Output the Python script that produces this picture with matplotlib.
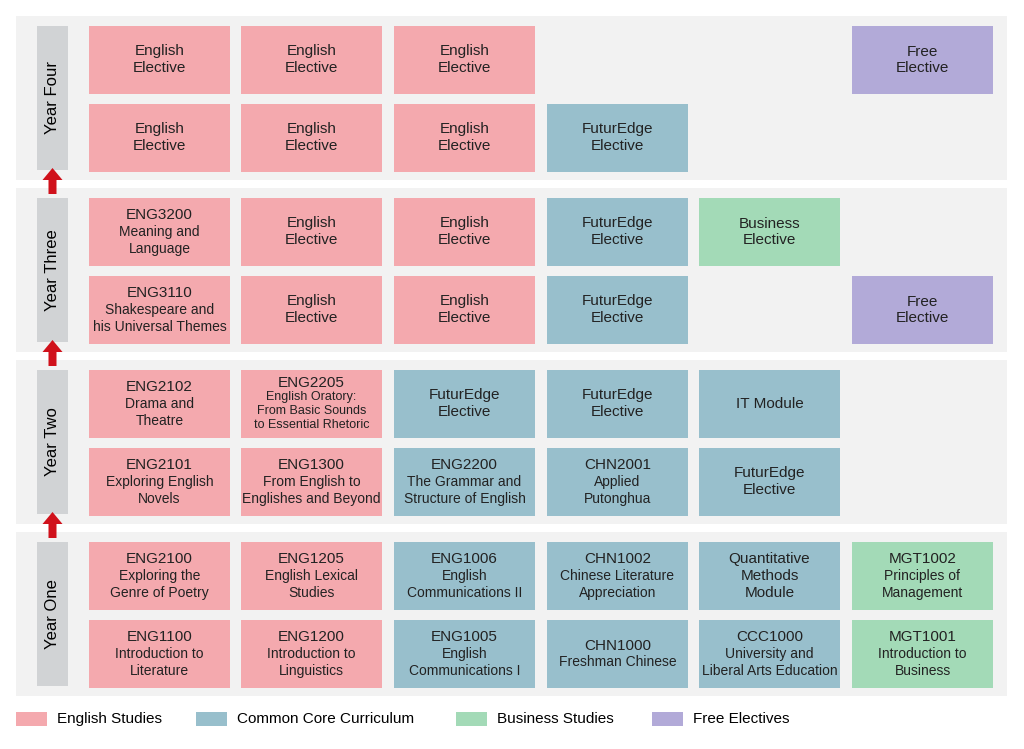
import re
import matplotlib.pyplot as plt
from matplotlib.patches import Rectangle, FancyArrow

plt.rcParams['font.family'] = ['Liberation Sans', 'DejaVu Sans']

colors = {"E": "#f4a9ae", "C": "#98bfcc", "B": "#a3dab7", "F": "#b2aad8"}
legend_labels = ["English Studies", "Common Core Curriculum", "Business Studies", "Free Electives"]
legend_keys = ["E", "C", "B", "F"]
years = ["Year Four", "Year Three", "Year Two", "Year One"]

EE = "English\nElective"
FE = "FuturEdge\nElective"
year_four = [
    [(0, "E", EE), (1, "E", EE), (2, "E", EE), (5, "F", "Free\nElective")],
    [(0, "E", EE), (1, "E", EE), (2, "E", EE), (3, "C", FE)],
]
year_three = [
    [(0, "E", "ENG3200\nMeaning and\nLanguage"), (1, "E", EE), (2, "E", EE), (3, "C", FE),
     (4, "B", "Business\nElective")],
    [(0, "E", "ENG3110\nShakespeare and\nhis Universal Themes"), (1, "E", EE), (2, "E", EE),
     (3, "C", FE), (5, "F", "Free\nElective")],
]
year_two = [
    [(0, "E", "ENG2102\nDrama and\nTheatre"),
     (1, "E", "ENG2205\nEnglish Oratory:\nFrom Basic Sounds\nto Essential Rhetoric"),
     (2, "C", FE), (3, "C", FE), (4, "C", "IT Module")],
    [(0, "E", "ENG2101\nExploring English\nNovels"),
     (1, "E", "ENG1300\nFrom English to\nEnglishes and Beyond"),
     (2, "C", "ENG2200\nThe Grammar and\nStructure of English"),
     (3, "C", "CHN2001\nApplied\nPutonghua"), (4, "C", FE)],
]
year_one = [
    [(0, "E", "ENG2100\nExploring the\nGenre of Poetry"),
     (1, "E", "ENG1205\nEnglish Lexical\nStudies"),
     (2, "C", "ENG1006\nEnglish\nCommunications II"),
     (3, "C", "CHN1002\nChinese Literature\nAppreciation"),
     (4, "C", "Quantitative\nMethods\nModule"),
     (5, "B", "MGT1002\nPrinciples of\nManagement")],
    [(0, "E", "ENG1100\nIntroduction to\nLiterature"),
     (1, "E", "ENG1200\nIntroduction to\nLinguistics"),
     (2, "C", "ENG1005\nEnglish\nCommunications I"),
     (3, "C", "CHN1000\nFreshman Chinese"),
     (4, "C", "CCC1000\nUniversity and\nLiberal Arts Education"),
     (5, "B", "MGT1001\nIntroduction to\nBusiness")],
]
year_rows = [year_four, year_three, year_two, year_one]

fig = plt.figure(figsize=(10.24, 7.49), dpi=100)
ax = fig.add_axes([0, 0, 1, 1])
ax.set_xlim(0, 1024)
ax.set_ylim(749, 0)
ax.axis("off")

col_x = [89, 241, 394, 547, 699, 852]
cw, ch = 141, 68
panel_top = [16, 188, 360, 532]

for yi, (name, rows) in enumerate(zip(years, year_rows)):
    top = panel_top[yi]
    ax.add_patch(Rectangle((16, top), 991, 164, color="#f2f2f2", lw=0))
    ax.add_patch(Rectangle((37, top + 10), 31, 144, color="#d1d3d5", lw=0))
    ax.text(52.5, top + 82, name, rotation=90, ha="center", va="center", fontsize=12)
    if yi > 0:
        ax.add_patch(FancyArrow(52.5, top + 6, 0, -26, width=8, head_width=20,
                                head_length=12, color="#d0111b", lw=0,
                                length_includes_head=True))
    for ri, row in enumerate(rows):
        y0 = top + 10 + ri * 78
        for col, cat, txt in row:
            ax.add_patch(Rectangle((col_x[col], y0), cw, ch, color=colors[cat], lw=0))
            lines = txt.split("\n")
            is_code = re.match(r"^[A-Z]{3}\d{4}$", lines[0]) is not None
            small = 9 if len(lines) == 4 else 10
            step = 14 if len(lines) == 4 else 17
            cy = y0 + ch / 2 - (len(lines) - 1) * step / 2
            for li, line in enumerate(lines):
                fs = 11 if (li == 0 or not is_code) else small
                ax.text(col_x[col] + cw / 2, cy + li * step, line, ha="center",
                        va="center", fontsize=fs, color="#222222")

legend_x = [16, 196, 456, 652]
for lx, key, lab in zip(legend_x, legend_keys, legend_labels):
    ax.add_patch(Rectangle((lx, 712), 31, 14, color=colors[key], lw=0))
    ax.text(lx + 41, 719, lab, va="center", fontsize=11)

fig.savefig("out.png", dpi=100)
